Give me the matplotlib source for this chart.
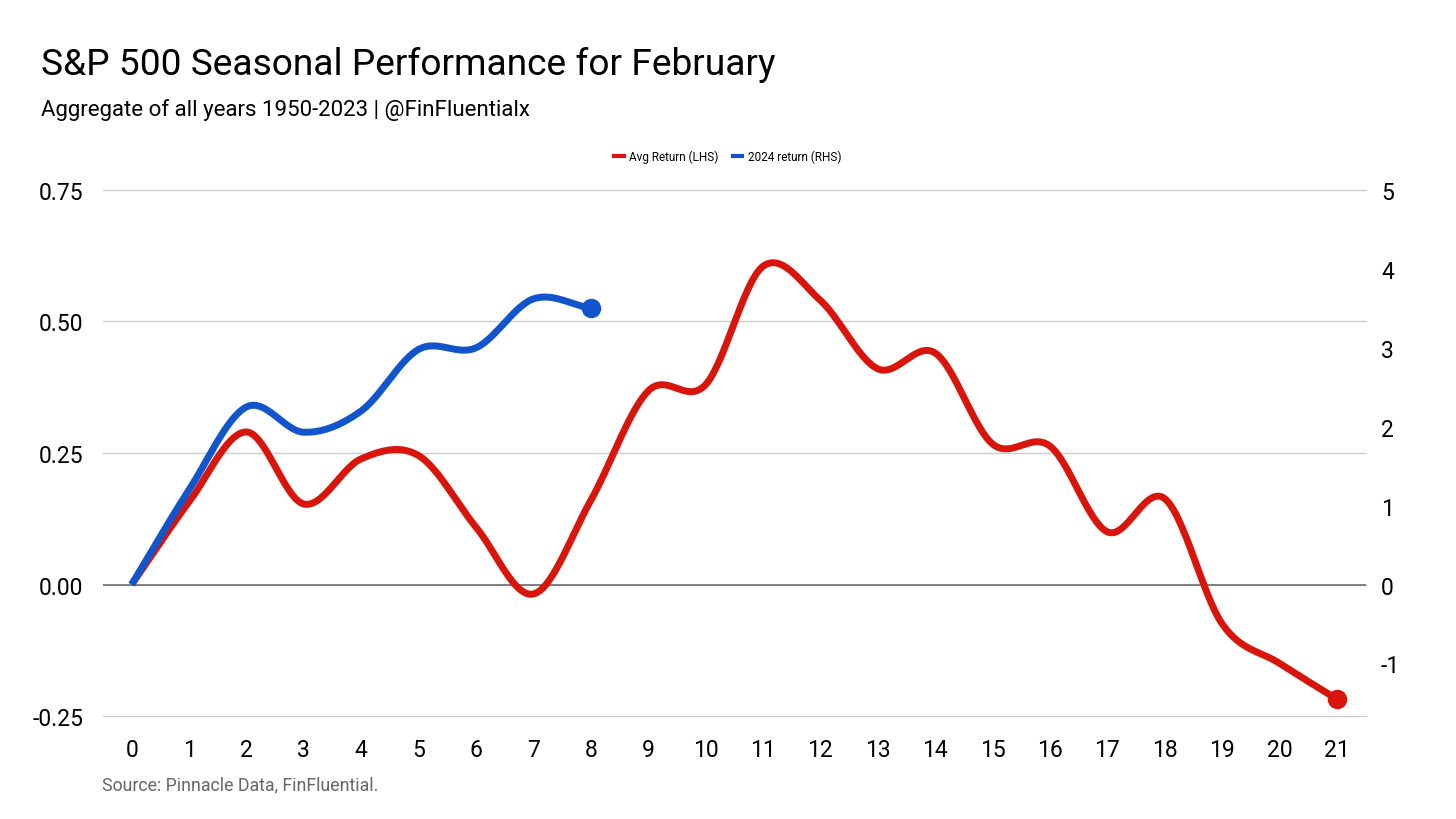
import numpy as np
import matplotlib
matplotlib.use("Agg")
import matplotlib.pyplot as plt
from matplotlib.lines import Line2D

plt.rcParams['font.family'] = ['Roboto', 'DejaVu Sans']
plt.rcParams['axes.unicode_minus'] = False

# trading day of February
days = list(range(22))
# average return (left axis)
avg_return = [0.0, 0.157, 0.29, 0.153, 0.239, 0.245, 0.109, -0.018, 0.16, 0.368, 0.38,
              0.605, 0.54, 0.41, 0.44, 0.267, 0.263, 0.10, 0.163, -0.075, -0.15, -0.218]
# 2024 return (right axis), only first 9 days
days_2024 = list(range(9))
ret_2024 = [0.0, 1.2, 2.25, 1.93, 2.2, 2.98, 3.0, 3.62, 3.5]

left_ticks = [-0.25, 0.0, 0.25, 0.5, 0.75]
right_ticks = [-1, 0, 1, 2, 3, 4, 5]

RED = '#d9140a'
BLUE = '#1155cc'


def smooth(x, y, n=30):
    # catmull-rom spline through the points, just for drawing
    x = np.asarray(x, float)
    y = np.asarray(y, float)
    px = np.concatenate([[2 * x[0] - x[1]], x, [2 * x[-1] - x[-2]]])
    py = np.concatenate([[2 * y[0] - y[1]], y, [2 * y[-1] - y[-2]]])
    xs, ys = [], []
    t = np.linspace(0, 1, n, endpoint=False)
    for i in range(1, len(px) - 2):
        for p, out in ((px, xs), (py, ys)):
            p0, p1, p2, p3 = p[i - 1], p[i], p[i + 1], p[i + 2]
            out.append(0.5 * (2 * p1 + (-p0 + p2) * t + (2 * p0 - 5 * p1 + 4 * p2 - p3) * t ** 2
                              + (-p0 + 3 * p1 - 3 * p2 + p3) * t ** 3))
    xs.append([x[-1]])
    ys.append([y[-1]])
    return np.concatenate(xs), np.concatenate(ys)


fig = plt.figure(figsize=(14.56, 8.2), dpi=100)
ax = fig.add_axes([0.0707, 0.1256, 0.8673, 0.6415])
ax2 = ax.twinx()

ax.set_xlim(-0.5, 21.5)
ax.set_ylim(-0.25, 0.75)
ax2.set_ylim(-5 / 3, 5)

ax.set_yticks(left_ticks)
ax.set_yticklabels(['%.2f' % v for v in left_ticks])
ax2.set_yticks(right_ticks)
ax.set_xticks(days)

for a in (ax, ax2):
    for s in a.spines.values():
        s.set_visible(False)
ax.tick_params(axis='y', length=0, pad=14, labelsize=16.5, colors='#000000')
ax.tick_params(axis='x', length=0, pad=16, labelsize=16.5, colors='#000000')
ax2.tick_params(axis='y', length=0, pad=11, labelsize=16.5, colors='#000000')

for v in left_ticks:
    ax.axhline(v, color='#cccccc', lw=1, zorder=0, clip_on=False)
ax.axhline(0, color='#777777', lw=1.3, zorder=1)

sx, sy = smooth(days, avg_return)
ax.plot(sx, sy, color=RED, lw=5, solid_capstyle='butt', zorder=3)
ax.plot(days[-1], avg_return[-1], 'o', color=RED, ms=13, zorder=4)

bx, by = smooth(days_2024, ret_2024)
ax2.plot(bx, by, color=BLUE, lw=5, solid_capstyle='butt', zorder=3)
ax2.plot(days_2024[-1], ret_2024[-1], 'o', color=BLUE, ms=13, zorder=4)

fig.text(0.0282, 0.908, 'S&P 500 Seasonal Performance for February', fontsize=26.7,
         color='#000000', va='baseline')
fig.text(0.0282, 0.858, 'Aggregate of all years 1950-2023 | @FinFluentialx', fontsize=16,
         color='#000000', va='baseline')
fig.text(0.070, 0.036, 'Source: Pinnacle Data, FinFluential.', fontsize=12.8,
         color='#666666', va='baseline')

handles = [Line2D([], [], color=RED, lw=3),
           Line2D([], [], color=BLUE, lw=3)]
fig.legend(handles, ['Avg Return (LHS)', '2024 return (RHS)'], loc='center',
           bbox_to_anchor=(0.5, 0.808), ncol=2, frameon=False, fontsize=8.5,
           handlelength=0.8, handletextpad=0.5, columnspacing=1.2)

fig.savefig('out.png', dpi=100, facecolor='white')
